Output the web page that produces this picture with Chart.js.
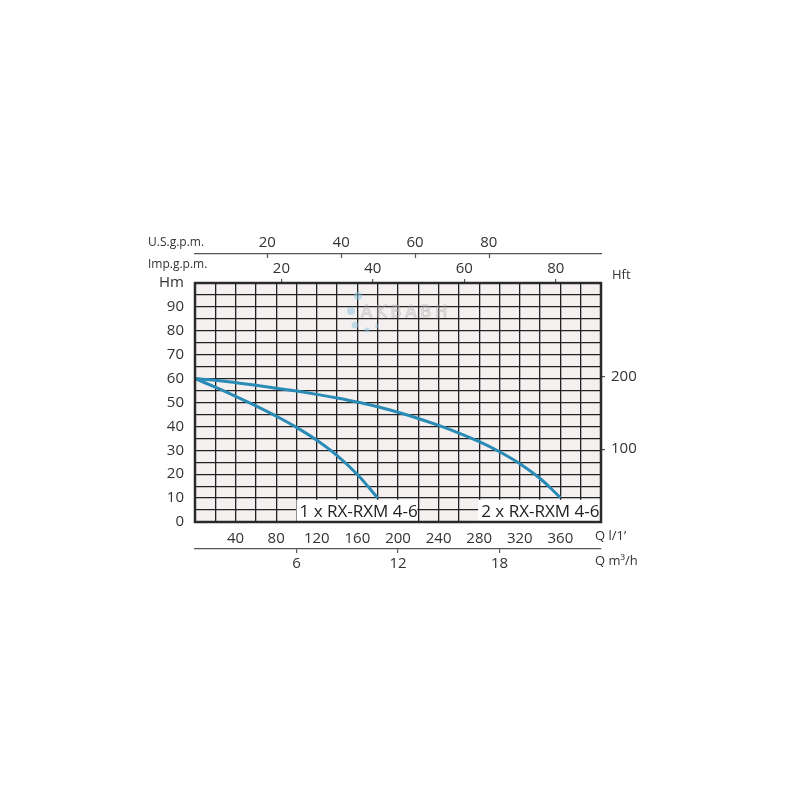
<!DOCTYPE html>
<html>
<head>
<meta charset="utf-8">
<script src="https://cdn.jsdelivr.net/npm/chart.js@4.4.1/dist/chart.umd.min.js"></script>
<style>
  html, body { margin: 0; padding: 0; background: #fff; }
  #wrap { width: 800px; height: 800px; }
</style>
</head>
<body>
<div id="wrap"><canvas id="c" width="800" height="800"></canvas></div>
<script>
// Pump curves, Q in l/min against H in metres
var flowOne = [0, 20, 40, 60, 80, 100, 120, 140, 160, 180];
var headOne = [60, 56.4, 52.6, 48.6, 44.3, 39.6, 34.2, 27.8, 19.9, 10];

var flowTwo = [0, 20, 40, 60, 80, 100, 120, 140, 160, 180, 200, 220, 240, 260, 280, 300, 320, 340, 360];
var headTwo = [60, 59.3, 58.3, 57.2, 56.0, 54.8, 53.4, 51.9, 50.2, 48.2, 45.9, 43.3, 40.4, 37.2, 33.6, 29.4, 24.4, 18.2, 10.2];

// tick labels
var lpmTicks = [40, 80, 120, 160, 200, 240, 280, 320, 360];
var m3hTicks = [6, 12, 18];
var usTicks = [20, 40, 60, 80];
var impTicks = [20, 40, 60, 80];
var hmTicks = [0, 10, 20, 30, 40, 50, 60, 70, 80, 90];
var hftTicks = [100, 200];

var curveLabels = [
    { text: '1 x RX-RXM 4-6', from: 100, to: 219 }
    , { text: '2 x RX-RXM 4-6', from: 279, to: 400 }
];

var ink = '#333';
var lineCol = '#2a8bb7';
Chart.defaults.font.family = "'Open Sans', sans-serif";
Chart.defaults.color = ink;

function pts(xs, ys) {
    return xs.map(function (x, i) { return { x: x, y: ys[i] }; });
}
function fixed(list) {
    return function (scale) { scale.ticks = list.map(function (v) { return { value: v }; }); };
}
function h(px) { return function (s) { s.height = px; }; }
function w(px) { return function (s) { s.width = px; }; }

var decor = {
    id: 'decor'
    , beforeDraw: function (chart) {
        var ctx = chart.ctx, a = chart.chartArea;
        ctx.save();
        ctx.fillStyle = '#fff';
        ctx.fillRect(0, 0, chart.width, chart.height);
        ctx.fillStyle = '#f4f0ef';
        ctx.fillRect(a.left, a.top, a.right - a.left, a.bottom - a.top);
        ctx.restore();
    }
    , beforeDatasetsDraw: function (chart) {
        var ctx = chart.ctx, a = chart.chartArea;
        var x = chart.scales.x, y = chart.scales.y;
        ctx.save();
        // watermark
        ctx.globalAlpha = 0.5;
        ctx.strokeStyle = '#a9a9a9';
        ctx.lineWidth = 1;
        ctx.font = '16px "DejaVu Sans"';
        ctx.letterSpacing = '4px';
        ctx.textBaseline = 'middle';
        ctx.strokeText('AKBABH', 361, 313);
        ctx.letterSpacing = '0px';
        ctx.fillStyle = '#8fc3e0';
        [[358, 296, 4], [351, 311, 4], [355, 325, 3.5], [367, 330, 2.5], [377, 326, 2]].forEach(function (b) {
            ctx.beginPath(); ctx.arc(b[0], b[1], b[2], 0, Math.PI * 2); ctx.fill();
        });
        ctx.globalAlpha = 1;
        // curve name boxes
        ctx.font = '17px "Open Sans"';
        ctx.textAlign = 'left';
        curveLabels.forEach(function (l) {
            var x0 = x.getPixelForValue(l.from), x1 = x.getPixelForValue(l.to);
            var yt = y.getPixelForValue(9.3);
            ctx.fillStyle = '#fff';
            ctx.fillRect(x0, yt, x1 - x0, a.bottom - yt);
            ctx.fillStyle = '#222';
            ctx.fillText(l.text, x0 + 3, (yt + a.bottom) / 2 + 1);
        });
        ctx.restore();
    }
    , afterDatasetsDraw: function (chart) {
        var ctx = chart.ctx, a = chart.chartArea;
        ctx.save();
        ctx.strokeStyle = '#2a2a2a';
        ctx.lineWidth = 2.5;
        ctx.strokeRect(a.left, a.top, a.right - a.left, a.bottom - a.top);
        // US gpm ticks hang below its line
        var us = chart.scales.xus;
        ctx.lineWidth = 1.2;
        ctx.strokeStyle = '#555';
        usTicks.forEach(function (v) {
            var px = Math.round(us.getPixelForValue(v)) + 0.5;
            ctx.beginPath(); ctx.moveTo(px, us.bottom); ctx.lineTo(px, us.bottom + 4); ctx.stroke();
        });
        // axis names
        ctx.fillStyle = ink;
        ctx.textBaseline = 'middle';
        ctx.textAlign = 'left';
        ctx.font = '12px "Open Sans"';
        ctx.fillText('U.S.g.p.m.', a.left - 47, us.bottom - 11);
        ctx.fillText('Imp.g.p.m.', a.left - 47, a.top - 18);
        ctx.font = '13px "Open Sans"';
        ctx.fillText('Hft', a.right + 11, a.top - 8);
        ctx.fillText('Q l/1\u2019', a.right - 6, chart.scales.x.top + 14);
        ctx.fillText('Q m\u00b3/h', a.right - 6, chart.scales.xm3.top + 12);
        ctx.restore();
    }
};

new Chart(document.getElementById('c'), {
    type: 'line'
    , data: {
        datasets: [
            {
                label: '1 x RX-RXM 4-6'
                , data: pts(flowOne, headOne)
                , borderColor: lineCol
                , borderWidth: 3
                , pointRadius: 0
                , tension: 0.4
            }
            , {
                label: '2 x RX-RXM 4-6'
                , data: pts(flowTwo, headTwo)
                , borderColor: lineCol
                , borderWidth: 3
                , pointRadius: 0
                , tension: 0.4
            }
        ]
    }
    , options: {
        responsive: false
        , animation: false
        , layout: { padding: { top: 220, bottom: 221, left: 0, right: 0 } }
        , plugins: { legend: { display: false }, tooltip: { enabled: false } }
        , scales: {
            x: {
                type: 'linear', position: 'bottom', weight: 0
                , min: 0, max: 400
                , afterFit: h(27)
                , ticks: {
                    stepSize: 20, autoSkip: false, maxRotation: 0, padding: 8
                    , font: { size: 15 }
                    , callback: function (v) { return lpmTicks.indexOf(v) >= 0 ? String(v) : ''; }
                }
                , grid: { color: '#222', lineWidth: 1.3, drawTicks: false }
                , border: { display: false }
            }
            , xm3: {
                type: 'linear', position: 'bottom', weight: 1
                , min: 0, max: 24
                , afterFit: h(30)
                , afterBuildTicks: fixed(m3hTicks)
                , ticks: { padding: 2, font: { size: 15 }, maxRotation: 0 }
                , grid: { drawOnChartArea: false, tickLength: 4, color: '#555', lineWidth: 1.2 }
                , border: { display: true, color: '#555', width: 1.2 }
            }
            , ximp: {
                type: 'linear', position: 'top', weight: 0
                , min: 1.1, max: 89.9
                , afterFit: h(29)
                , afterBuildTicks: fixed(impTicks)
                , ticks: { padding: 1, font: { size: 15 }, maxRotation: 0 }
                , grid: { drawOnChartArea: false, tickLength: 4, color: '#555', lineWidth: 1.2 }
                , border: { display: false }
            }
            , xus: {
                type: 'linear', position: 'top', weight: 1
                , min: 0.4, max: 110.4
                , afterFit: h(34)
                , afterBuildTicks: fixed(usTicks)
                , ticks: { padding: 2, font: { size: 15 }, maxRotation: 0 }
                , grid: { display: false, drawTicks: false }
                , border: { display: true, color: '#555', width: 1.2 }
            }
            , y: {
                type: 'linear', position: 'left'
                , min: 0, max: 100
                , afterFit: w(195)
                , ticks: {
                    stepSize: 5, autoSkip: false, padding: 11
                    , font: { size: 15 }
                    , callback: function (v) {
                        if (v === 100) return 'Hm';
                        return hmTicks.indexOf(v) >= 0 ? String(v) : '';
                    }
                }
                , grid: { color: '#222', lineWidth: 1.3, drawTicks: false }
                , border: { display: false }
            }
            , yft: {
                type: 'linear', position: 'right'
                , min: 0, max: 328.08
                , afterFit: w(199)
                , afterBuildTicks: fixed(hftTicks)
                , ticks: { padding: 6, font: { size: 15 } }
                , grid: { drawOnChartArea: false, tickLength: 4, color: '#555', lineWidth: 1.2 }
                , border: { display: false }
            }
        }
    }
    , plugins: [decor]
});
</script>
</body>
</html>
